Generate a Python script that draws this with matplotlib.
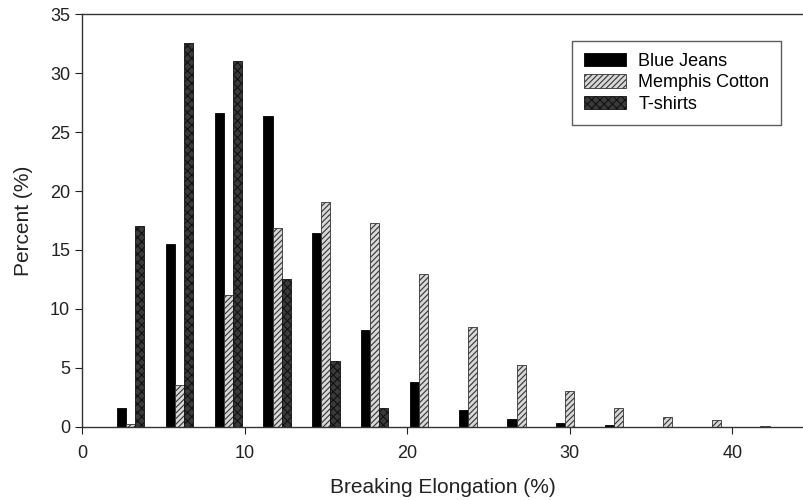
import matplotlib
matplotlib.use("Agg")
import matplotlib.pyplot as plt
import numpy as np

plt.rcParams['font.family'] = ['Liberation Sans', 'DejaVu Sans']
plt.rcParams['hatch.linewidth'] = 0.8

bins = [3, 6, 9, 12, 15, 18, 21, 24, 27, 30, 33, 36, 39, 42]
blue_jeans = [1.6, 15.5, 26.6, 26.4, 16.4, 8.2, 3.8, 1.45, 0.63, 0.31, 0.15, 0, 0, 0]
memphis = [0.25, 3.5, 11.2, 16.9, 19.1, 17.3, 12.96, 8.46, 5.24, 3.06, 1.6, 0.85, 0.54, 0.1]
tshirts = [17.0, 32.6, 31.0, 12.56, 5.55, 1.56, 0, 0, 0, 0, 0, 0, 0, 0]
series_names = ["Blue Jeans", "Memphis Cotton", "T-shirts"]
x_ticks = [0, 10, 20, 30, 40]
y_ticks = [0, 5, 10, 15, 20, 25, 30, 35]

fig = plt.figure(figsize=(8.04, 5.0), dpi=100)
ax = fig.add_axes([82/804, 1 - 426.7/500, 1 - 82/804, (426.7 - 14.3)/500])

x = np.array(bins, dtype=float)
w = 0.56
ax.bar(x - w, blue_jeans, width=w, color='black', edgecolor='black', linewidth=0.6, label=series_names[0])
ax.bar(x, memphis, width=w, color='#d8d8d8', edgecolor='#333333', hatch='//////', linewidth=0.6, label=series_names[1])
ax.bar(x + w, tshirts, width=w, color='#3a3a3a', edgecolor='#111111', hatch='xxxx', linewidth=0.6, label=series_names[2])

ax.set_xlim(0, 44.4)
ax.set_ylim(0, 35)
ax.set_xticks(x_ticks)
ax.set_yticks(y_ticks)
ax.tick_params(direction='out', length=5, width=0.8, labelsize=13, colors='#222222')
ax.tick_params(axis='x', pad=8)
for s in ['left', 'bottom', 'top']:
    ax.spines[s].set_color('#333333')
    ax.spines[s].set_linewidth(1.0)
ax.spines['right'].set_visible(False)

ax.set_xlabel("Breaking Elongation (%)", fontsize=15, color='#222222', labelpad=12)
ax.set_ylabel("Percent (%)", fontsize=15, color='#222222', labelpad=12)

leg = ax.legend(loc='upper right', bbox_to_anchor=(0.968, 0.935), borderaxespad=0.0,
                fontsize=13, frameon=True,
                fancybox=False, edgecolor='#333333', handlelength=2.3, handleheight=0.75,
                borderpad=0.65, labelspacing=0.25, handletextpad=0.7)
leg.get_frame().set_linewidth(1.0)

fig.savefig("out.png", dpi=100)
